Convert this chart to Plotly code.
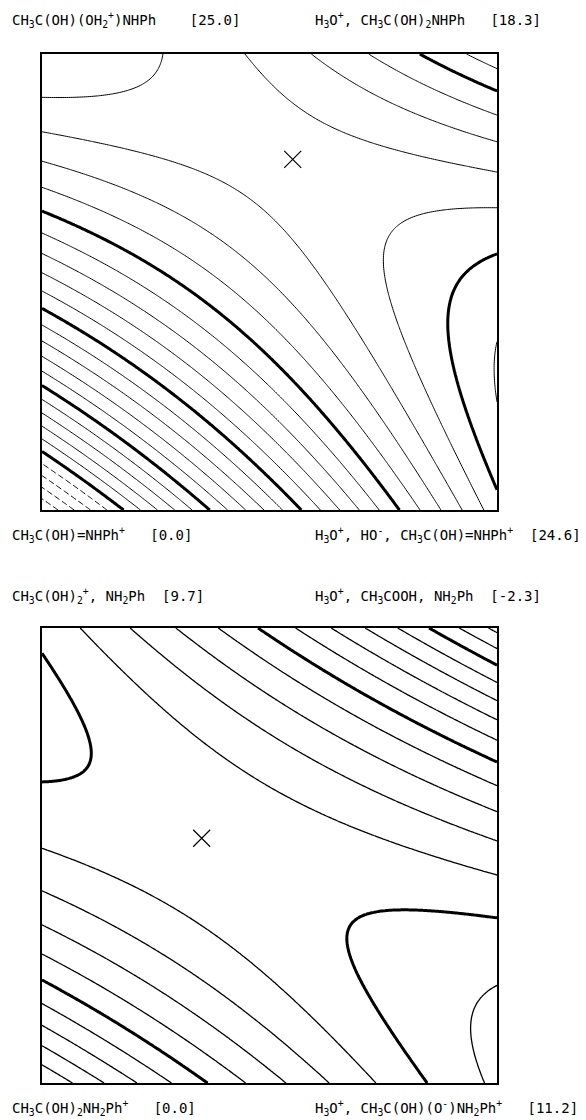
import numpy as np
import plotly.graph_objects as go

# Corner free energies (kcal/mol): [bottom-left, bottom-right, top-left, top-right]
upper_corners = [0.0, 24.6, 25.0, 18.3]
lower_corners = [0.0, 11.2, 9.7, -2.3]

# Edge curvature terms: [along the horizontal edges, along the vertical edges]
edge_curvature = [4.0, 16.0]

# Transition-state positions (reaction coordinates x, y)
upper_ts = [0.551, 0.769]
lower_ts = [0.351, 0.538]

# Contour levels: [first, last] with 1 kcal spacing; heavy lines every 5
upper_levels = [1, 26]
lower_levels = [-2, 11]
upper_dashed_levels = [1, 4]

# Corner species: [top-left, top-right, bottom-left, bottom-right]
upper_labels = [
    "CH<sub>3</sub>C(OH)(OH<sub>2</sub><sup>+</sup>)NHPh    [25.0]",
    "H<sub>3</sub>O<sup>+</sup>, CH<sub>3</sub>C(OH)<sub>2</sub>NHPh   [18.3]",
    "CH<sub>3</sub>C(OH)=NHPh<sup>+</sup>   [0.0]",
    "H<sub>3</sub>O<sup>+</sup>, HO<sup>-</sup>, CH<sub>3</sub>C(OH)=NHPh<sup>+</sup>  [24.6]",
]
lower_labels = [
    "CH<sub>3</sub>C(OH)<sub>2</sub><sup>+</sup>, NH<sub>2</sub>Ph  [9.7]",
    "H<sub>3</sub>O<sup>+</sup>, CH<sub>3</sub>COOH, NH<sub>2</sub>Ph  [-2.3]",
    "CH<sub>3</sub>C(OH)<sub>2</sub>NH<sub>2</sub>Ph<sup>+</sup>   [0.0]",
    "H<sub>3</sub>O<sup>+</sup>, CH<sub>3</sub>C(OH)(O<sup>-</sup>)NH<sub>2</sub>Ph<sup>+</sup>   [11.2]",
]

W, H = 586, 1120
FONT = "DejaVu Sans Mono"
BLACK = [[0, "black"], [1, "black"]]


def surface(corners, curv, n=241):
    """More O'Ferrall-Jencks energy surface: bilinear corners plus edge curvature."""
    g = np.linspace(0.0, 1.0, n)
    X, Y = np.meshgrid(g, g)
    e00, e10, e01, e11 = corners
    Z = (e00 * (1 - X) * (1 - Y) + e10 * X * (1 - Y) + e01 * (1 - X) * Y + e11 * X * Y
         + curv[0] * X * (1 - X) + curv[1] * Y * (1 - Y))
    return g, Z


def contour(g, Z, start, end, size, width, dash, xa, ya):
    return go.Contour(
        x=g, y=g, z=Z, xaxis=xa, yaxis=ya,
        contours=dict(coloring="lines", start=start, end=end, size=size, showlabels=False),
        line=dict(width=width, dash=dash, smoothing=1),
        colorscale=BLACK, showscale=False, hoverinfo="skip",
    )


fig = go.Figure()

# Upper panel
g, Z = surface(upper_corners, edge_curvature)
fig.add_trace(contour(g, Z, upper_dashed_levels[1] + 1, upper_levels[1], 1, 1.0, "solid", "x", "y"))
fig.add_trace(contour(g, Z, upper_dashed_levels[0], upper_dashed_levels[1], 1, 1.0, "6px,3px", "x", "y"))
fig.add_trace(contour(g, Z, 5, 25, 5, 3.0, "solid", "x", "y"))
fig.add_trace(go.Scatter(
    x=[upper_ts[0]], y=[upper_ts[1]], mode="markers", xaxis="x", yaxis="y",
    marker=dict(symbol="x-thin", size=17, color="black", line=dict(width=1.2, color="black")),
    hoverinfo="skip", showlegend=False))

# Lower panel
g, Z = surface(lower_corners, edge_curvature)
fig.add_trace(contour(g, Z, lower_levels[0], lower_levels[1], 1, 1.3, "solid", "x2", "y2"))
fig.add_trace(contour(g, Z, 0, 10, 5, 3.0, "solid", "x2", "y2"))
fig.add_trace(go.Scatter(
    x=[lower_ts[0]], y=[lower_ts[1]], mode="markers", xaxis="x2", yaxis="y2",
    marker=dict(symbol="x-thin", size=17, color="black", line=dict(width=1.2, color="black")),
    hoverinfo="skip", showlegend=False))

# Panel frames in pixels: left, right, top, bottom
upper_box = [42, 497, 54, 510]
lower_box = [42, 497, 628, 1083]


def axis(domain, anchor):
    return dict(domain=domain, anchor=anchor, range=[0, 1], showgrid=False, zeroline=False,
                showticklabels=False, ticks="", showline=True, mirror=True,
                linecolor="black", linewidth=2.2, fixedrange=True)


def xdom(b):
    return [b[0] / W, b[1] / W]


def ydom(b):
    return [1 - b[3] / H, 1 - b[2] / H]


annotations = []
label_pos = [(10, 20), (313, 20), (10, 535), (313, 535)]
for (px, py), txt in zip(label_pos, upper_labels):
    annotations.append(dict(x=px / W, y=1 - py / H, xref="paper", yref="paper", text=txt,
                            showarrow=False, xanchor="left", yanchor="middle",
                            font=dict(family=FONT, size=14, color="black")))
label_pos = [(10, 596), (313, 596), (10, 1108), (313, 1108)]
for (px, py), txt in zip(label_pos, lower_labels):
    annotations.append(dict(x=px / W, y=1 - py / H, xref="paper", yref="paper", text=txt,
                            showarrow=False, xanchor="left", yanchor="middle",
                            font=dict(family=FONT, size=14, color="black")))

fig.update_layout(
    width=W, height=H, margin=dict(l=0, r=0, t=0, b=0),
    paper_bgcolor="white", plot_bgcolor="white", showlegend=False,
    xaxis=axis(xdom(upper_box), "y"), yaxis=axis(ydom(upper_box), "x"),
    xaxis2=axis(xdom(lower_box), "y2"), yaxis2=axis(ydom(lower_box), "x2"),
    annotations=annotations,
)

fig.write_html("out.html")
